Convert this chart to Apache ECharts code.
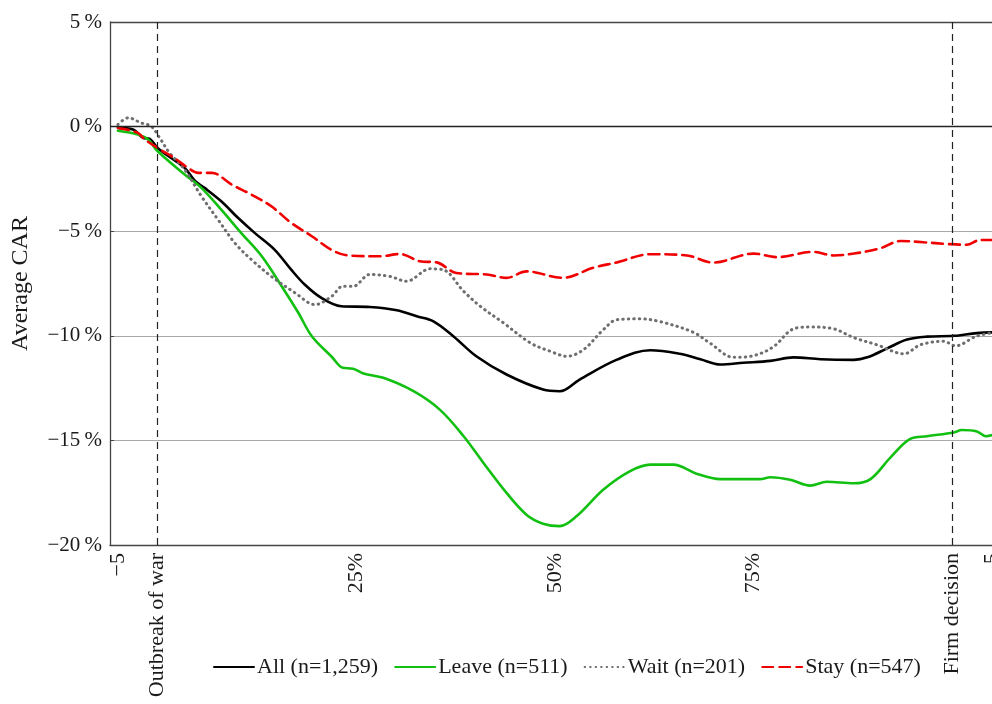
<!DOCTYPE html>
<html><head><meta charset="utf-8">
<script src="https://cdn.jsdelivr.net/npm/echarts@6/dist/echarts.min.js"></script>
<style>html,body{margin:0;padding:0;background:#fff}#c{width:992px;height:704px}</style>
</head><body><div id="c"></div>
<script>
// x: -5..0 = days before outbreak, 0..100 = % of time to firm decision, 100..105 = days after
const xTickValues = [-5, 0, 25, 50, 75, 100, 105];
const xTickLabels = ['\u22125', 'Outbreak of war', '25%', '50%', '75%', 'Firm decision', '5'];
const yTickValues = [-20, -15, -10, -5, 0, 5];
const seriesNames = ['All (n=1,259)', 'Leave (n=511)', 'Wait (n=201)', 'Stay (n=547)'];

const allCAR = [[-5,-0.06],[-3.1,-0.14],[-1.85,-0.54],[-1,-0.59],[0,-1.02],[1.7,-1.5],[3.4,-1.97],[4.7,-2.6],[5.9,-2.93],[8,-3.57],[10.1,-4.36],[12.2,-5.08],[14.7,-5.88],[16.8,-6.84],[18.5,-7.55],[20.6,-8.19],[23.1,-8.59],[26.7,-8.62],[30.1,-8.78],[32.6,-9.07],[34.7,-9.31],[37.2,-10.02],[40.1,-10.98],[43.9,-11.85],[48.5,-12.57],[50.6,-12.65],[53.1,-12.09],[57.8,-11.14],[62,-10.69],[65.7,-10.86],[68.3,-11.12],[70.8,-11.37],[73.7,-11.29],[77.1,-11.2],[80,-11.03],[83.4,-11.12],[87.6,-11.15],[89.3,-11.03],[91.8,-10.6],[94.3,-10.18],[96.8,-10.04],[100.2,-10],[103.1,-9.87],[106,-9.83]];
const leaveCAR = [[-5,-0.2],[-2.5,-0.38],[-1.2,-0.62],[0,-1.18],[3.4,-2.29],[5.5,-2.93],[8,-3.97],[10.5,-5.08],[13.1,-6.2],[15.6,-7.63],[17.7,-8.9],[19.4,-10.02],[21.9,-11.0],[23.3,-11.53],[24.6,-11.57],[25.9,-11.8],[28.4,-12.01],[32.2,-12.65],[35.5,-13.53],[38.5,-14.8],[41,-16.08],[43.9,-17.51],[46.4,-18.55],[48.5,-18.98],[50.6,-19.1],[52.7,-18.63],[56.1,-17.35],[59.4,-16.48],[62,-16.16],[64.9,-16.16],[67.8,-16.59],[70.8,-16.85],[75.8,-16.85],[77.1,-16.76],[79.6,-16.88],[82.1,-17.16],[84.2,-16.98],[87.6,-17.05],[89.7,-16.85],[92.2,-15.82],[94.7,-14.93],[96.8,-14.8],[100.2,-14.62],[101.2,-14.5],[103.1,-14.57],[104.2,-14.8],[106,-14.62]];
const waitCAR = [[-5,0.1],[-3.7,0.42],[-2.1,0.18],[-0.8,0.01],[0.25,-0.54],[1.5,-1.26],[3.4,-2.06],[5.5,-3.33],[7.6,-4.45],[9.7,-5.56],[11.8,-6.36],[14.3,-7.16],[17.3,-7.95],[19.8,-8.51],[21.9,-8.11],[23.3,-7.63],[24.6,-7.63],[26.7,-7.07],[29.2,-7.16],[31.3,-7.39],[34.3,-6.8],[35.9,-6.84],[38.5,-7.87],[40.6,-8.59],[43.5,-9.38],[46.9,-10.34],[49.4,-10.74],[51.5,-10.98],[53.6,-10.66],[56.1,-9.7],[57.8,-9.23],[60.7,-9.19],[63.2,-9.32],[67.4,-9.83],[69.5,-10.35],[72.5,-11.03],[75,-10.95],[77.5,-10.52],[80,-9.67],[82.1,-9.58],[85.1,-9.67],[87.6,-10.09],[90.5,-10.43],[93.9,-10.86],[96,-10.43],[98.9,-10.26],[100.4,-10.48],[103.1,-10.01],[106,-9.8]];
const stayCAR = [[-5,-0.06],[-2.5,-0.3],[-1.6,-0.62],[0,-1.02],[2.1,-1.5],[3.8,-1.97],[5.1,-2.21],[6.8,-2.21],[9.3,-2.77],[11.8,-3.25],[14.3,-3.81],[16.8,-4.6],[19.4,-5.24],[21.9,-5.9],[23.8,-6.15],[28,-6.2],[30.5,-6.09],[33,-6.44],[35.1,-6.49],[37.6,-7],[41.4,-7.07],[43.9,-7.23],[46.4,-6.92],[51,-7.23],[54.8,-6.75],[57.8,-6.49],[62,-6.1],[66.6,-6.16],[69.9,-6.5],[75,-6.07],[77.9,-6.24],[82.5,-5.99],[85.1,-6.16],[87.6,-6.07],[90.9,-5.82],[93.5,-5.47],[96.4,-5.53],[99.3,-5.61],[101.8,-5.65],[103.5,-5.42],[106,-5.42]];

const eventLines = [0, 100];
const FONT = 'Liberation Serif';
const TXT = '#1a1a1a';

const chart = echarts.init(document.getElementById('c'), null, {renderer: 'canvas'});
function mk(name, data, color, type, width, extra) {
  return Object.assign({
    name, type: 'line', data, symbol: 'none', smooth: 0.35, z: 3,
    lineStyle: {color, type, width, cap: 'round'},
    itemStyle: {color}
  }, extra || {});
}
chart.setOption({
  animation: false,
  backgroundColor: '#fff',
  textStyle: {fontFamily: FONT, color: TXT},
  grid: {left: 110, top: 22, width: 890, height: 523, containLabel: false, outerBoundsMode: 'none'},
  xAxis: {
    type: 'value', min: -6, max: 106,
    axisLine: {show: true, onZero: false, lineStyle: {color: '#444', width: 1.3}},
    axisTick: {show: false},
    splitLine: {show: false},
    axisLabel: {
      customValues: xTickValues, rotate: 90, margin: 8,
      fontFamily: FONT, fontSize: 22, color: TXT,
      formatter: v => { const i = xTickValues.indexOf(v); return i >= 0 ? xTickLabels[i] : ''; }
    }
  },
  yAxis: {
    type: 'value', min: -20, max: 5, interval: 5,
    name: 'Average CAR', nameLocation: 'middle', nameGap: 77, nameRotate: 90,
    nameTextStyle: {fontFamily: FONT, fontSize: 24, color: TXT},
    axisLine: {show: true, onZero: false, lineStyle: {color: '#444', width: 1.3}},
    axisTick: {show: true, inside: true, length: 4, lineStyle: {color: '#444'}},
    splitLine: {show: true, lineStyle: {color: '#aaa', width: 1.2}},
    axisLabel: {
      margin: 8, fontFamily: FONT, fontSize: 21, color: TXT,
      formatter: v => (v < 0 ? '\u2212' + Math.abs(v) : String(v)) + '\u2009%'
    }
  },
  legend: {
    left: 208, top: 651, itemWidth: 40, itemHeight: 14, itemGap: 16,
    itemStyle: {opacity: 0},
    textStyle: {fontFamily: FONT, fontSize: 22, color: TXT, padding: [0, 0, 0, -2]},
    data: seriesNames
  },
  series: [
    mk(seriesNames[0], allCAR, '#000', 'solid', 2.6, {
      markLine: {
        silent: true, symbol: 'none', label: {show: false},
        data: [
          {yAxis: 0, lineStyle: {color: '#222', type: 'solid', width: 1.3}},
          {yAxis: 5, lineStyle: {color: '#444', type: 'solid', width: 1.3}},
          ...eventLines.map(x => ({xAxis: x, lineStyle: {color: '#222', type: [7, 5], width: 1.2}}))
        ]
      }
    }),
    mk(seriesNames[1], leaveCAR, '#12c012', 'solid', 2.6),
    mk(seriesNames[2], waitCAR, '#6e6e6e', [0.5, 5], 3),
    mk(seriesNames[3], stayCAR, '#f00000', [11, 6], 2.6)
  ]
});
</script>
</body></html>
